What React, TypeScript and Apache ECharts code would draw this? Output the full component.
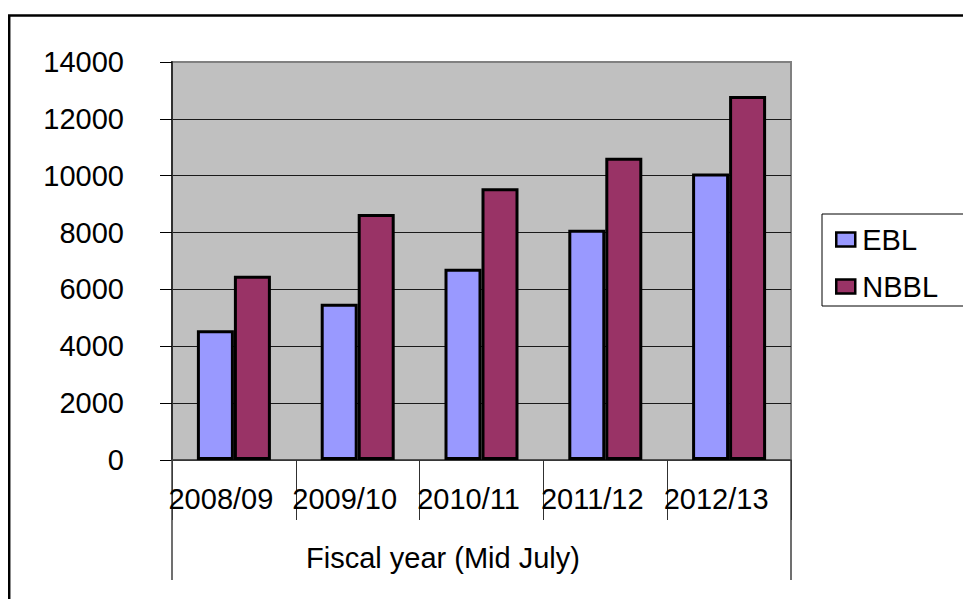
import React, { useEffect, useRef } from "react";
import * as echarts from "echarts";

const categories = ["2008/09", "2009/10", "2010/11", "2011/12", "2012/13"];
const ebl = [4560, 5500, 6730, 8100, 10080];
const nbbl = [6480, 8650, 9560, 10630, 12800];
const axisTitle = ["Fiscal year (Mid July)"];
const yMin = 0;
const yMax = 14000;
const yStep = 2000;

const FONT = "'Liberation Sans', Arial, sans-serif";

export default function App() {
  const ref = useRef<HTMLDivElement>(null);
  useEffect(() => {
    if (!ref.current) return;
    const chart = echarts.init(ref.current, undefined, { renderer: "svg" });
    chart.setOption({
      animation: false,
      backgroundColor: "#ffffff",
      textStyle: { fontFamily: FONT, color: "#000" },
      graphic: [
        {
          type: "rect",
          shape: { x: 1.2, y: 7.5, width: 1200, height: 800 },
          style: { fill: "none", stroke: "#000", lineWidth: 2.5 },
          silent: true,
          z: 100,
        },
        {
          type: "rect",
          shape: { x: 814, y: 206, width: 400, height: 92 },
          style: { fill: "#fff", stroke: "#000", lineWidth: 1 },
          silent: true,
          z: 0,
        },
      ],
      grid: {
        left: 164,
        top: 54,
        right: 180,
        bottom: 139,
        show: true,
        backgroundColor: "#c0c0c0",
        borderColor: "#808080",
        borderWidth: 2,
      },
      legend: {
        left: 814,
        top: 206,
        orient: "vertical",
        data: ["EBL", "NBBL"],
        icon: "rect",
        itemWidth: 19,
        itemHeight: 14,
        itemGap: 18,
        padding: [11, 10, 8, 13],
        z: 10,
        textStyle: { fontSize: 29, fontFamily: FONT, color: "#000", padding: [0, 0, 0, 2] },
        itemStyle: { borderColor: "#000", borderWidth: 2.5 },
      },
      xAxis: [
        {
          type: "category",
          data: categories,
          position: "bottom",
          axisLine: { show: true, lineStyle: { color: "#404040", width: 1.5 } },
          axisTick: { show: true, length: 60, alignWithLabel: false, lineStyle: { color: "#303030", width: 1 } },
          axisLabel: {
            interval: 0,
            fontSize: 29,
            fontFamily: FONT,
            color: "#000",
            margin: 24,
            padding: [0, 26, 0, 0],
          },
          splitLine: { show: false },
        },
        {
          type: "category",
          data: axisTitle,
          position: "bottom",
          axisLine: { show: false },
          axisTick: { show: true, length: 120, lineStyle: { color: "#404040", width: 1.5 } },
          axisLabel: {
            interval: 0,
            fontSize: 29,
            fontFamily: FONT,
            color: "#000",
            margin: 83,
            padding: [0, 77, 0, 0],
          },
        },
      ],
      yAxis: {
        type: "value",
        min: yMin,
        max: yMax,
        interval: yStep,
        axisLine: { show: true, lineStyle: { color: "#303030", width: 2 } },
        axisTick: { show: true, length: 12, lineStyle: { color: "#000", width: 1 } },
        axisLabel: {
          fontSize: 29,
          fontFamily: FONT,
          color: "#000",
          margin: 48,
          formatter: (v: number) => String(v),
        },
        splitLine: { show: true, showMaxLine: false, lineStyle: { color: "#1a1a1a", width: 1 } },
      },
      series: [
        {
          name: "EBL",
          type: "bar",
          data: ebl,
          barWidth: 37,
          barGap: "0%",
          itemStyle: { color: "#9999ff", borderColor: "#000", borderWidth: 3 },
        },
        {
          name: "NBBL",
          type: "bar",
          data: nbbl,
          barWidth: 37,
          barGap: "0%",
          itemStyle: { color: "#993366", borderColor: "#000", borderWidth: 3 },
        },
      ],
    });
    return () => chart.dispose();
  }, []);
  return <div ref={ref} style={{ width: 963, height: 591 }} />;
}
